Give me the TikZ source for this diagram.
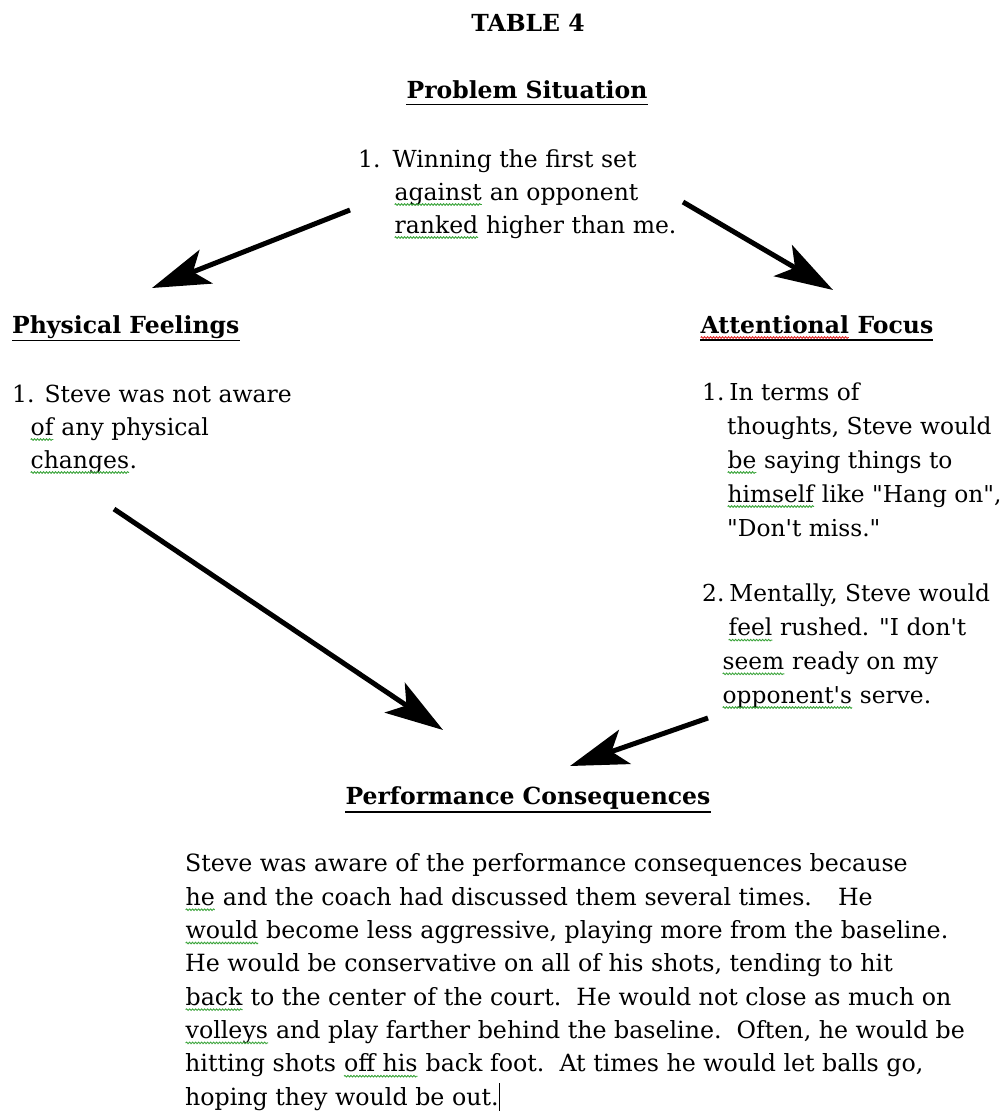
\documentclass[tikz,border=0pt]{standalone}
\usepackage{fontspec}
\newfontfamily\docfont{DejaVu Serif}
\usetikzlibrary{arrows.meta,decorations.pathmorphing}
\definecolor{spellgreen}{RGB}{60,165,60}
\definecolor{spellred}{RGB}{225,40,40}

% wavy spell-check mark under a word
\newcommand{\spell}[2][spellgreen]{\tikz[baseline=(sw.base)]{%
  \node[inner sep=0pt,outer sep=0pt,anchor=base] (sw) {#2};%
  \draw[#1,line width=0.9pt,decorate,decoration={snake,amplitude=0.8pt,segment length=3pt}]
    ([yshift=-4.5pt]sw.base west) -- ([yshift=-4.5pt]sw.base east);}}

\begin{document}
\begin{tikzpicture}[x=1pt,y=-1pt,
    txt/.style={anchor=base west,inner sep=0pt,align=left,font=\docfont\fontsize{23.5}{33.7}\selectfont},
    head/.style={anchor=base west,inner sep=0pt,font=\docfont\fontsize{23.5}{28}\selectfont\bfseries},
    flow/.style={line width=5pt,-{Stealth[length=58pt,width=36pt,inset=14pt]}},
    uline/.style={line width=1.8pt}]
\useasboundingbox[fill=white] (0,0) rectangle (1008,1111);

% Headings
\node[head,anchor=base] (title) at (528,31) {TABLE 4};
\node[head,anchor=base] (prob) at (527,98) {Problem Situation};
\node[head] (phys) at (12,333) {Physical Feelings};
\node[head] (attn) at (700,333) {\spell[spellred]{Attentional} Focus};
\node[head,anchor=base] (perf) at (528,804) {Performance Consequences};
\draw[uline] ([yshift=-6.5pt]prob.base west) -- ([yshift=-6.5pt]prob.base east);
\draw[uline] ([yshift=-7.5pt]phys.base west) -- ([yshift=-7.5pt]phys.base east);
\draw[uline] ([yshift=-7pt]attn.base west) -- ([yshift=-7pt]attn.base east);
\draw[uline] ([yshift=-8pt]perf.base west) -- ([yshift=-8pt]perf.base east);

% Texts (base = last line)
\node[txt,font=\docfont\fontsize{23.5}{33}\selectfont] (probtxt) at (358,233) {1.\hspace{12pt}Winning the first set\\
  \hspace*{36pt}\spell{against} an opponent\\
  \hspace*{36pt}\spell{ranked} higher than me.};
\node[txt,font=\docfont\fontsize{23.5}{33}\selectfont] (phystxt) at (12,468) {1. Steve was not aware\\
  \hspace*{18pt}\spell{of} any physical\\
  \hspace*{18pt}\spell{changes}.};
\node[txt,font=\docfont\fontsize{23.3}{34}\selectfont] (attnone) at (702,536) {1.\hspace{5pt}In terms of\\
  \hspace*{25pt}thoughts, Steve would\\
  \hspace*{25pt}\spell{be} saying things to\\
  \hspace*{25pt}\spell{himself} like "Hang on",\\
  \hspace*{25pt}"Don't miss."};
\node[txt,font=\docfont\fontsize{23.3}{33.7}\selectfont] (attntwo) at (702,703) {2.\hspace{5pt}Mentally, Steve would\\
  \hspace*{26pt}\spell{feel} rushed. "I don't\\
  \hspace*{20pt}\spell{seem} ready on my\\
  \hspace*{20pt}\spell{opponent's} serve.};
\node[txt,font=\docfont\fontsize{23.7}{33.3}\selectfont] (perftxt) at (185,1105) {Steve was aware of the performance consequences because\\
  \spell{he} and the coach had discussed them several times.\hspace{16pt} He\\
  \spell{would} become less aggressive, playing more from the baseline.\\
  He would be conservative on all of his shots, tending to hit\\
  \spell{back} to the center of the court.\ \ He would not close as much on\\
  \spell{volleys} and play farther behind the baseline.\ \ Often, he would be\\
  hitting shots \spell{off\ his} back foot.\ \ At times he would let balls go,\\
  hoping they would be out.\rule[-6pt]{1.2pt}{28pt}};

% Arrows
\coordinate (probL) at (350,210);
\coordinate (physT) at (152,288);
\coordinate (probR) at (683,202);
\coordinate (attnT) at (833,290);
\coordinate (physB) at (114,509);
\coordinate (perfL) at (443,730);
\coordinate (attnB) at (708,718);
\coordinate (perfR) at (570,766);
\draw[flow] (probL) -- (physT);
\draw[flow] (probR) -- (attnT);
\draw[flow] (physB) -- (perfL);
\draw[flow] (attnB) -- (perfR);
\end{tikzpicture}
\end{document}
